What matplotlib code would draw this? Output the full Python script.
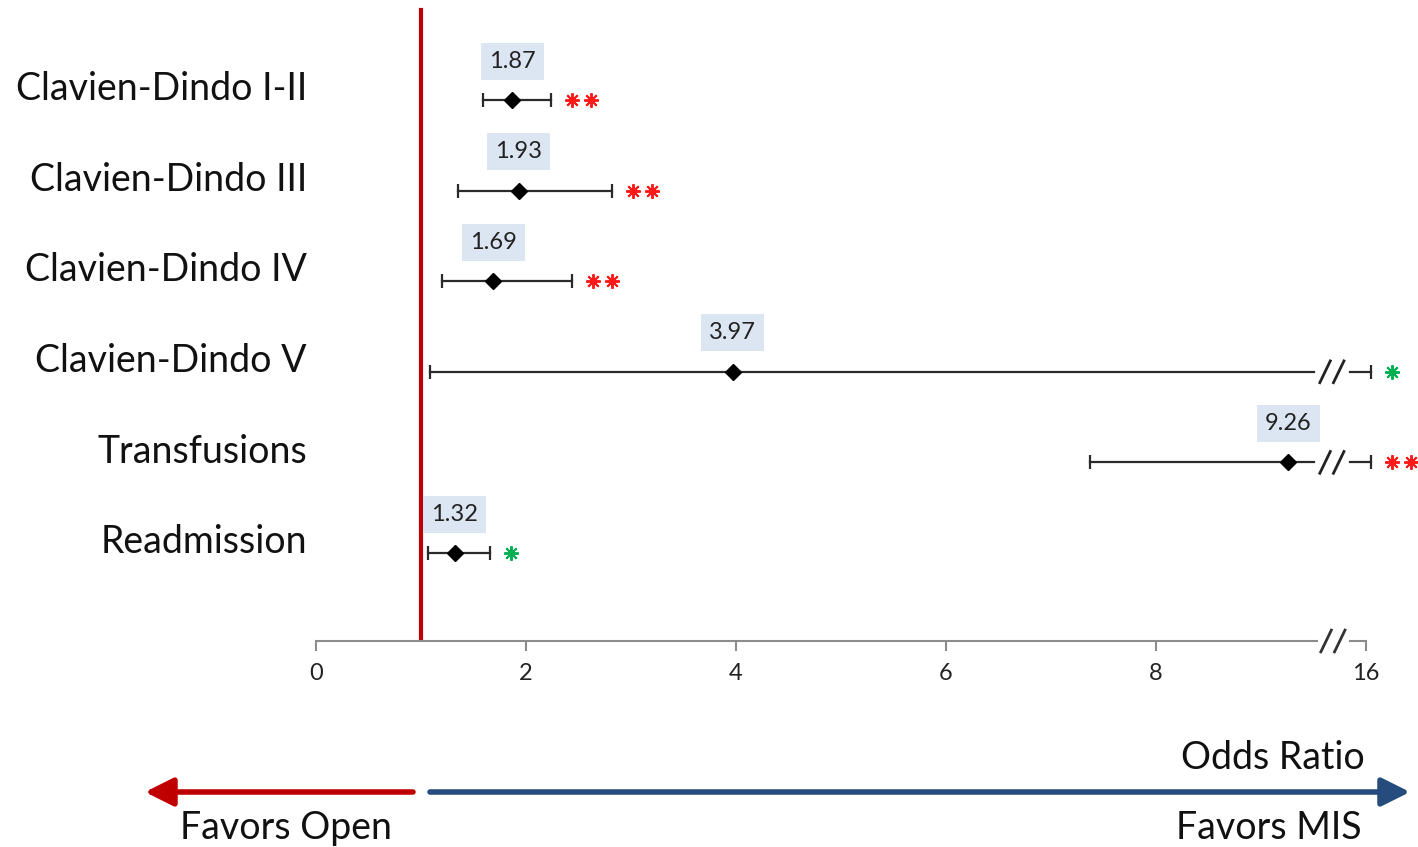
import numpy as np
import matplotlib
matplotlib.use("Agg")
import matplotlib.pyplot as plt

plt.rcParams['font.family'] = ['Lato', 'DejaVu Sans']

# ---- data ----
categories = ["Clavien-Dindo I-II", "Clavien-Dindo III", "Clavien-Dindo IV",
              "Clavien-Dindo V", "Transfusions", "Readmission"]
odds = [1.87, 1.93, 1.69, 3.97, 9.26, 1.32]
ci_low = [1.59, 1.35, 1.20, 1.09, 7.37, 1.07]
ci_high = [2.24, 2.82, 2.44, 16.4, 16.4, 1.66]
signif = ["**", "**", "**", "*", "**", "*"]
tick_vals = [0, 2, 4, 6, 8, 16]

BREAK = 9.5          # axis is linear up to here, then jumps to 16
RED = "#c00000"
BLUE = "#264b7d"


def xpos(v):
    # broken axis: 16 sits at position 10
    return v if v <= BREAK else 10 + (v - 16) / 8.0


W, H = 1418, 847
fig = plt.figure(figsize=(W / 100, H / 100), dpi=100)
ax = fig.add_axes([316 / W, 1 - 641 / H, (W - 316) / W, 641 / H])
ax.set_xlim(0, (W - 316) / 105.0)
ax.set_ylim((641 - 100) / 90.6, -100 / 90.6)
ax.patch.set_alpha(0)

for s in ["top", "right", "left"]:
    ax.spines[s].set_visible(False)
ax.spines["bottom"].set_color("#8c8c8c")
ax.spines["bottom"].set_linewidth(1.5)
ax.spines["bottom"].set_bounds(0, 9.53)
ax.set_yticks([])
ax.set_xticks([xpos(v) if v <= BREAK else 10 for v in tick_vals])
ax.set_xticklabels([str(v) for v in tick_vals], fontsize=17, color="#222222")
ax.tick_params(axis="x", direction="out", length=7, width=1.5, color="#8c8c8c",
               pad=9)

# axis break
yb = ax.get_ylim()[0]
ax.plot([9.85, 10.0], [yb, yb], color="#8c8c8c", lw=1.5, clip_on=False)
for x0 in (9.57, 9.70):
    ax.plot([x0, x0 + 0.1], [yb + 0.12, yb - 0.12], color="#333333", lw=2,
            clip_on=False)

# reference line at OR = 1
ax.axvline(1.0, ymin=0, ymax=(641 - 10) / 641, color=RED, lw=3, zorder=1)

lc = "#2a2a2a"
for i, (cat, o, lo, hi, sg) in enumerate(zip(categories, odds, ci_low, ci_high, signif)):
    hx = xpos(hi)
    if hi > BREAK:
        ax.plot([lo, 9.5], [i, i], color=lc, lw=1.6, zorder=2)
        ax.plot([9.85, hx], [i, i], color=lc, lw=1.6, zorder=2)
        for x0 in (9.56, 9.69):
            ax.plot([x0, x0 + 0.1], [i + 0.12, i - 0.12], color="#222222", lw=2)
    else:
        ax.plot([lo, hi], [i, i], color=lc, lw=1.6, zorder=2)
    ax.plot([lo, hx], [i, i], ls="none", marker="|", ms=10, mew=1.6, color=lc,
            zorder=2)
    ax.plot([o], [i], ls="none", marker="D", ms=8.5, color="black", zorder=3)

    # value label
    ax.text(o, i - 0.43, f"{o:.2f}", ha="center", va="center", fontsize=17,
            color="#222222",
            bbox=dict(boxstyle="square,pad=0.34", fc="#dce6f2", ec="none"))

    # significance stars
    scol = "#ff1a1a" if sg == "**" else "#00b050"
    sx = [hx + 0.2 + k * 0.18 for k in range(len(sg))]
    ax.plot(sx, [i] * len(sx), ls="none", marker=(8, 2, 0), ms=10.5, mew=1.4,
            color=scol, clip_on=False)

    # category label
    ax.text(-0.086, i - 0.12, cat, ha="right", va="center", fontsize=27,
            color="#111111", clip_on=False)

# bottom annotations
def fx(px):
    return px / W


def fy(py):
    return 1 - py / H


fig.text(fx(1365), fy(758), "Odds Ratio", ha="right", va="center", fontsize=27,
         color="#111111")
fig.text(fx(180), fy(828), "Favors Open", ha="left", va="center", fontsize=27,
         color="#111111")
fig.text(fx(1362), fy(828), "Favors MIS", ha="right", va="center", fontsize=27,
         color="#111111")

fig.add_artist(matplotlib.patches.FancyArrowPatch(
    (fx(430), fy(792)), (fx(1410), fy(792)), transform=fig.transFigure,
    arrowstyle="-|>,head_length=0.9,head_width=0.45", mutation_scale=19,
    lw=4, color=BLUE, shrinkA=0, shrinkB=0))
fig.add_artist(matplotlib.patches.FancyArrowPatch(
    (fx(413), fy(792)), (fx(145), fy(792)), transform=fig.transFigure,
    arrowstyle="-|>,head_length=0.9,head_width=0.45", mutation_scale=19,
    lw=4, color=RED, shrinkA=0, shrinkB=0))

fig.savefig("out.png", dpi=100)
